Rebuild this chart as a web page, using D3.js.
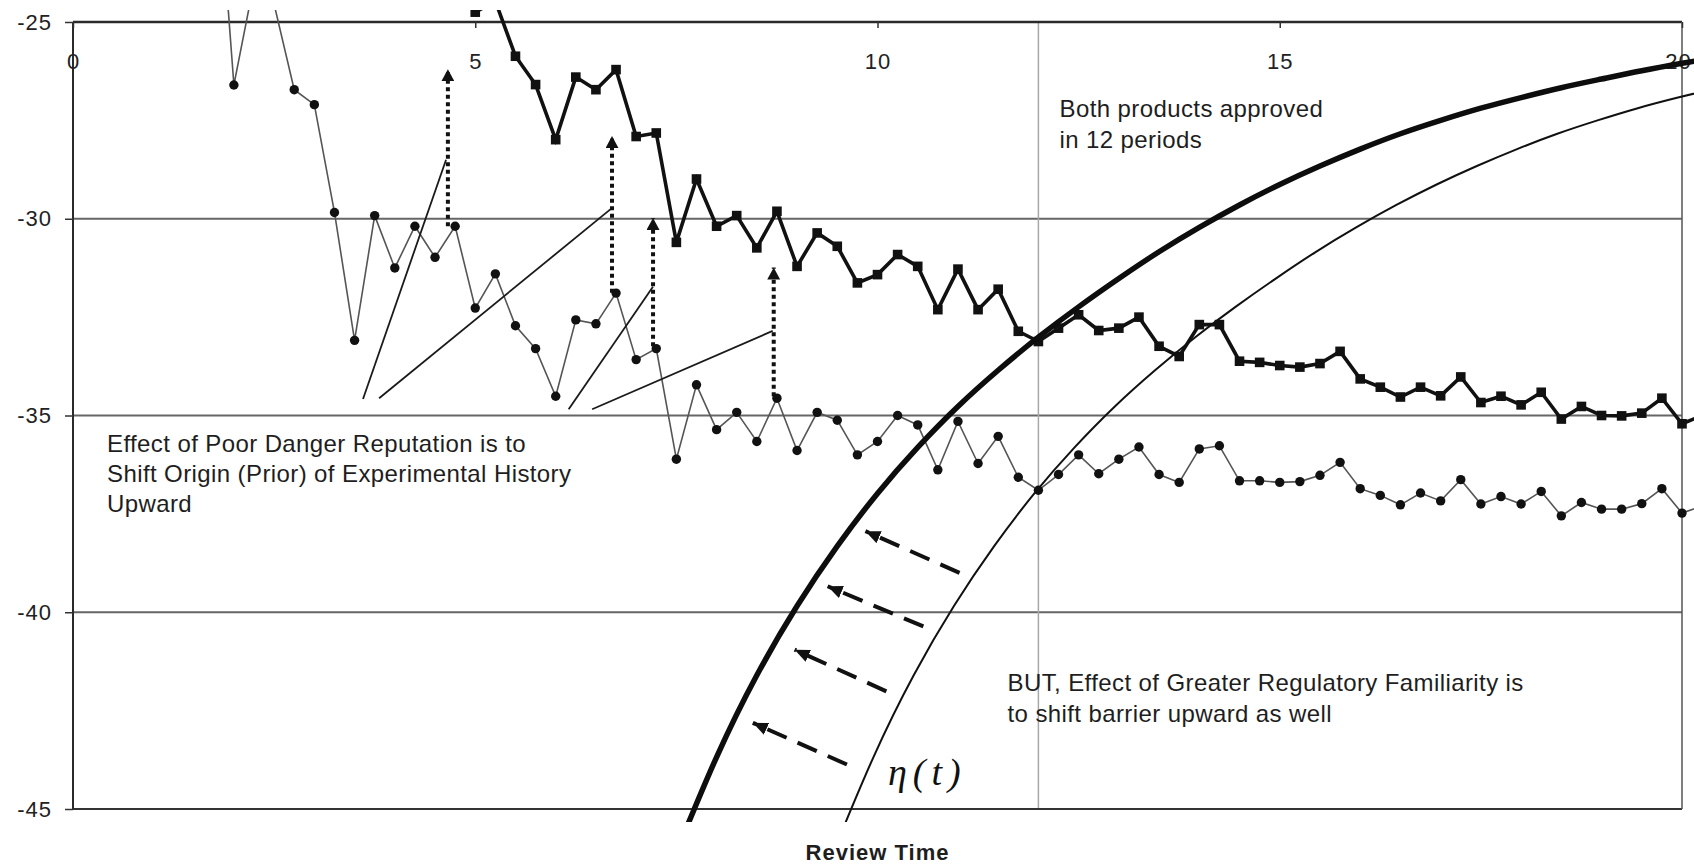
<!DOCTYPE html>
<html>
<head>
<meta charset="utf-8">
<script src="https://cdn.jsdelivr.net/npm/d3@7"></script>
<style>
  body { margin: 0; background: #fff; }
  svg { display: block; font-family: "Liberation Sans", Arial, sans-serif; }
</style>
</head>
<body>
<div id="chart"></div>
<script>
// review periods (quarter steps) for the two experimental histories
var lowerTimes = [1.75, 2, 2.25, 2.5, 2.75, 3, 3.25, 3.5, 3.75, 4, 4.25, 4.5, 4.75, 5, 5.25, 5.5, 5.75, 6, 6.25, 6.5,
  6.75, 7, 7.25, 7.5, 7.75, 8, 8.25, 8.5, 8.75, 9, 9.25, 9.5, 9.75, 10, 10.25, 10.5, 10.75, 11, 11.25, 11.5,
  11.75, 12, 12.25, 12.5, 12.75, 13, 13.25, 13.5, 13.75, 14, 14.25, 14.5, 14.75, 15, 15.25, 15.5, 15.75, 16, 16.25, 16.5,
  16.75, 17, 17.25, 17.5, 17.75, 18, 18.25, 18.5, 18.75, 19, 19.25, 19.5, 19.75, 20, 20.25];
var lowerValues = [-19.8, -26.6, -24.0, -24.55, -26.72, -27.1, -29.84, -33.09, -29.92, -31.25,
  -30.19, -30.98, -30.19, -32.27, -31.4, -32.72, -33.3, -34.51, -32.57, -32.67,
  -31.89, -33.58, -33.3, -36.11, -34.22, -35.36, -34.92, -35.66, -34.56, -35.89,
  -34.92, -35.12, -36.0, -35.66, -35.0, -35.24, -36.38, -35.15, -36.22, -35.53,
  -36.57, -36.9, -36.5, -36.0, -36.48, -36.11, -35.8, -36.5, -36.7, -35.85,
  -35.77, -36.66, -36.66, -36.7, -36.68, -36.52, -36.19, -36.86, -37.03, -37.27,
  -36.97, -37.17, -36.63, -37.25, -37.06, -37.25, -36.93, -37.55, -37.21, -37.38,
  -37.38, -37.24, -36.86, -37.48, -37.3];

var upperTimes = [4.75, 5, 5.25, 5.5, 5.75, 6, 6.25, 6.5, 6.75, 7, 7.25, 7.5, 7.75, 8, 8.25, 8.5, 8.75, 9, 9.25, 9.5,
  9.75, 10, 10.25, 10.5, 10.75, 11, 11.25, 11.5, 11.75, 12, 12.25, 12.5, 12.75, 13, 13.25, 13.5, 13.75, 14, 14.25, 14.5,
  14.75, 15, 15.25, 15.5, 15.75, 16, 16.25, 16.5, 16.75, 17, 17.25, 17.5, 17.75, 18, 18.25, 18.5, 18.75, 19, 19.25, 19.5,
  19.75, 20, 20.25];
var upperValues = [-23.0, -24.75, -24.47, -25.87, -26.59, -27.99, -26.4, -26.72, -26.21, -27.91,
  -27.82, -30.6, -28.99, -30.19, -29.92, -30.74, -29.81, -31.21, -30.36, -30.7,
  -31.63, -31.42, -30.91, -31.21, -32.31, -31.28, -32.31, -31.79, -32.86, -33.12,
  -32.78, -32.44, -32.84, -32.78, -32.5, -33.24, -33.5, -32.69, -32.69, -33.62,
  -33.65, -33.73, -33.77, -33.68, -33.37, -34.07, -34.28, -34.53, -34.28, -34.5,
  -34.02, -34.67, -34.51, -34.73, -34.41, -35.09, -34.77, -35.0, -35.01, -34.94,
  -34.56, -35.21, -35.0];

// barriers
var barrierShiftT = [7.5, 8, 8.5, 9, 9.5, 10, 10.5, 11, 11.5, 12, 12.5, 13, 13.5, 14,
  14.5, 15, 15.5, 16, 16.5, 17, 17.5, 18, 18.5, 19, 19.5, 20, 20.2];
var barrierShiftV = [-46.1, -43.68, -41.6, -39.84, -38.32, -36.98, -35.81, -34.77, -33.85, -33.01, -32.24, -31.52, -30.84, -30.22,
  -29.65, -29.13, -28.66, -28.23, -27.84, -27.5, -27.19, -26.92, -26.67, -26.45, -26.24, -26.05, -25.98];
var barrierBaseT = [9.45, 9.95, 10.45, 10.95, 11.45, 11.95, 12.45, 12.95, 13.45, 13.95, 14.45, 14.95,
  15.45, 15.95, 16.45, 16.95, 17.45, 17.95, 18.45, 18.95, 19.45, 19.95, 20.45];
var barrierBaseV = [-46.1, -43.68, -41.6, -39.84, -38.32, -36.98, -35.81, -34.77, -33.85, -33.01, -32.24, -31.52,
  -30.84, -30.22, -29.65, -29.13, -28.66, -28.23, -27.84, -27.5, -27.19, -26.92, -26.67];

var yTicks = [-45, -40, -35, -30, -25];
var xTicks = [0, 5, 10, 15, 20];
var gridValues = [-40, -35, -30];
var approvalPeriod = 12;

// annotation geometry in data units
var pointerLines = [[3.605, -34.58, 4.637, -28.5], [3.805, -34.56, 6.698, -29.73],
  [6.161, -34.84, 7.209, -31.73], [6.453, -34.84, 8.697, -32.85]];
var originArrows = [[4.66, -30.19, -26.2], [6.70, -31.88, -27.9], [7.21, -33.24, -29.98], [8.71, -34.51, -31.24]];
var barrierArrows = [[11.02, -39.0, 9.85, -37.94], [10.57, -40.36, 9.38, -39.34],
  [10.11, -42.01, 8.97, -40.95], [9.62, -43.87, 8.45, -42.81]];

var reputationText = ["Effect of Poor Danger Reputation is to", "Shift Origin (Prior) of Experimental History", "Upward"];
var approvedText = ["Both products approved", "in 12 periods"];
var familiarityText = ["BUT, Effect of Greater Regulatory Familiarity is", "to shift barrier upward as well"];

var margin = {top: 22, right: 12, bottom: 56, left: 73},
    width = 1694 - margin.left - margin.right,
    height = 865 - margin.top - margin.bottom;

var root = d3.select("#chart")
  .append("svg")
    .attr("width", 1694)
    .attr("height", 865);

var defs = root.append("defs");
defs.append("marker")
    .attr("id", "headDot")
    .attr("viewBox", "0 0 12 13")
    .attr("refX", 12).attr("refY", 6.5)
    .attr("markerWidth", 12).attr("markerHeight", 13)
    .attr("markerUnits", "userSpaceOnUse")
    .attr("orient", "auto")
  .append("path").attr("d", "M0,0L12,6.5L0,13Z").attr("fill", "#111");
defs.append("marker")
    .attr("id", "headDash")
    .attr("viewBox", "0 0 15 13")
    .attr("refX", 15).attr("refY", 6.5)
    .attr("markerWidth", 15).attr("markerHeight", 13)
    .attr("markerUnits", "userSpaceOnUse")
    .attr("orient", "auto")
  .append("path").attr("d", "M0,0L15,6.5L0,13Z").attr("fill", "#111");

var svg = root.append("g")
    .attr("transform", "translate(" + margin.left + "," + margin.top + ")");

defs.append("clipPath").attr("id", "plotClip")
  .append("rect")
    .attr("x", 0).attr("y", -12)
    .attr("width", width + margin.right)
    .attr("height", height + 25);

var x = d3.scaleLinear().domain([0, 20]).range([0, width]);
var y = d3.scaleLinear().domain([-45, -25]).range([height, 0]);

// grid lines
svg.append("g").selectAll("line")
  .data(gridValues)
  .enter().append("line")
    .attr("x1", 0).attr("x2", width)
    .attr("y1", function(d) { return y(d); })
    .attr("y2", function(d) { return y(d); })
    .attr("stroke", "#666")
    .attr("stroke-width", 2);

svg.append("line")
    .attr("x1", x(approvalPeriod)).attr("x2", x(approvalPeriod))
    .attr("y1", y(-25)).attr("y2", y(-45))
    .attr("stroke", "#a8a8a8")
    .attr("stroke-width", 1.5);

// frame
svg.append("line").attr("x1", 0).attr("x2", width).attr("y1", y(-25)).attr("y2", y(-25))
    .attr("stroke", "#2a2a2a").attr("stroke-width", 2.5);
svg.append("line").attr("x1", 0).attr("x2", width).attr("y1", y(-45)).attr("y2", y(-45))
    .attr("stroke", "#333").attr("stroke-width", 2);
svg.append("line").attr("x1", 0).attr("x2", 0).attr("y1", y(-25)).attr("y2", y(-45))
    .attr("stroke", "#2a2a2a").attr("stroke-width", 2);
svg.append("line").attr("x1", x(20)).attr("x2", x(20)).attr("y1", y(-25)).attr("y2", y(-45))
    .attr("stroke", "#555").attr("stroke-width", 1.5);

// axes
var yAxis = svg.append("g")
    .call(d3.axisLeft(y).tickValues(yTicks).tickSize(8).tickPadding(13)
      .tickFormat(function(d) { return String(d); }));
var xAxis = svg.append("g")
    .call(d3.axisBottom(x).tickValues(xTicks).tickSize(6).tickPadding(25)
      .tickFormat(function(d) { return String(d); }));
[yAxis, xAxis].forEach(function(a) {
  a.select(".domain").remove();
  a.selectAll(".tick line").attr("stroke", "#333").attr("stroke-width", 1.5);
  a.selectAll(".tick text")
    .attr("fill", "#222")
    .style("font-family", "'Liberation Sans', Arial, sans-serif")
    .style("font-size", "22px")
    .style("letter-spacing", "1px");
});
// last label sits against the right edge of the page
xAxis.selectAll(".tick text").filter(function(d) { return d === 20; })
    .attr("dx", "-4px");

// histories and barriers
var plot = svg.append("g").attr("clip-path", "url(#plotClip)");

var lowerData = lowerTimes.map(function(t, i) { return {t: t, v: lowerValues[i]}; });
var upperData = upperTimes.map(function(t, i) { return {t: t, v: upperValues[i]}; });
var shiftData = barrierShiftT.map(function(t, i) { return {t: t, v: barrierShiftV[i]}; });
var baseData = barrierBaseT.map(function(t, i) { return {t: t, v: barrierBaseV[i]}; });

var line = d3.line()
  .x(function(d) { return x(d.t); })
  .y(function(d) { return y(d.v); });
var smooth = d3.line()
  .curve(d3.curveNatural)
  .x(function(d) { return x(d.t); })
  .y(function(d) { return y(d.v); });

plot.append("path")
    .datum(lowerData)
    .attr("d", line)
    .attr("fill", "none")
    .attr("stroke", "#555")
    .attr("stroke-width", 1.6);
plot.append("g").selectAll("circle")
  .data(lowerData)
  .enter().append("circle")
    .attr("cx", function(d) { return x(d.t); })
    .attr("cy", function(d) { return y(d.v); })
    .attr("r", 4.7)
    .attr("fill", "#111");

plot.append("path")
    .datum(upperData)
    .attr("d", line)
    .attr("fill", "none")
    .attr("stroke", "#111")
    .attr("stroke-width", 3.6);
plot.append("g").selectAll("rect")
  .data(upperData)
  .enter().append("rect")
    .attr("x", function(d) { return x(d.t) - 4.8; })
    .attr("y", function(d) { return y(d.v) - 4.8; })
    .attr("width", 9.6)
    .attr("height", 9.6)
    .attr("fill", "#111");

plot.append("path")
    .datum(baseData)
    .attr("d", smooth)
    .attr("fill", "none")
    .attr("stroke", "#111")
    .attr("stroke-width", 2);
plot.append("path")
    .datum(shiftData)
    .attr("d", smooth)
    .attr("fill", "none")
    .attr("stroke", "#0d0d0d")
    .attr("stroke-width", 5.5);

// pointer lines from the reputation note
svg.append("g").selectAll("line")
  .data(pointerLines)
  .enter().append("line")
    .attr("x1", function(d) { return x(d[0]); })
    .attr("y1", function(d) { return y(d[1]); })
    .attr("x2", function(d) { return x(d[2]); })
    .attr("y2", function(d) { return y(d[3]); })
    .attr("stroke", "#1a1a1a")
    .attr("stroke-width", 1.8);

// dotted upward arrows (origin shift)
svg.append("g").selectAll("line")
  .data(originArrows)
  .enter().append("line")
    .attr("x1", function(d) { return x(d[0]); })
    .attr("y1", function(d) { return y(d[1]); })
    .attr("x2", function(d) { return x(d[0]); })
    .attr("y2", function(d) { return y(d[2]); })
    .attr("stroke", "#111")
    .attr("stroke-width", 4)
    .attr("stroke-dasharray", "4,3.5")
    .attr("marker-end", "url(#headDot)");

// dashed arrows (barrier shift)
svg.append("g").selectAll("line")
  .data(barrierArrows)
  .enter().append("line")
    .attr("x1", function(d) { return x(d[0]); })
    .attr("y1", function(d) { return y(d[1]); })
    .attr("x2", function(d) { return x(d[2]); })
    .attr("y2", function(d) { return y(d[3]); })
    .attr("stroke", "#111")
    .attr("stroke-width", 4)
    .attr("stroke-dasharray", "21,12")
    .attr("marker-end", "url(#headDash)");

// notes
function note(lines, px, py, step) {
  svg.append("g").selectAll("text")
    .data(lines)
    .enter().append("text")
      .attr("x", px)
      .attr("y", function(d, i) { return py + i * step; })
      .attr("fill", "#1e1e1e")
      .style("font-size", "24px")
      .style("letter-spacing", "0.4px")
      .text(function(d) { return d; });
}
note(reputationText, 34, 429.7, 30);
note(approvedText, 986.5, 95, 31);
note(familiarityText, 934.5, 669, 30.5);

svg.append("text")
    .attr("x", 815)
    .attr("y", 763)
    .attr("fill", "#111")
    .style("font-family", "'Liberation Serif', 'DejaVu Serif', serif")
    .style("font-style", "italic")
    .style("font-size", "38px")
    .style("letter-spacing", "6px")
    .text("η(t)");

svg.append("text")
    .attr("x", x(10))
    .attr("y", height + 51)
    .attr("text-anchor", "middle")
    .attr("fill", "#1e1e1e")
    .style("font-size", "22px")
    .style("font-weight", "bold")
    .style("letter-spacing", "1px")
    .text("Review Time");
</script>
</body>
</html>
